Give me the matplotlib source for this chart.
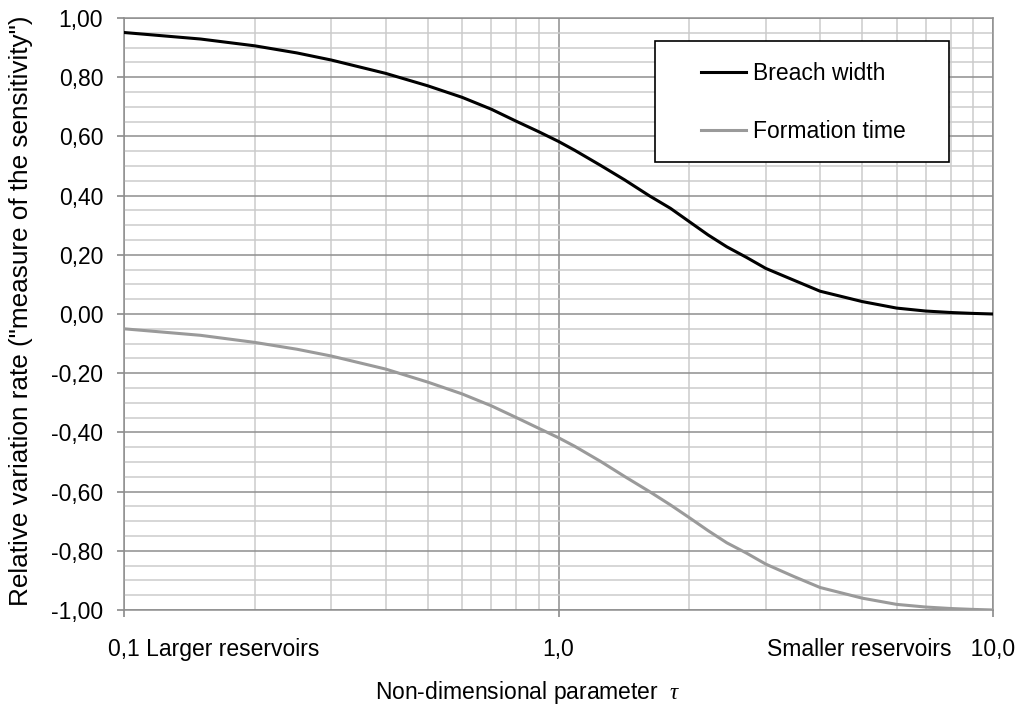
import matplotlib
matplotlib.use("Agg")
import matplotlib.pyplot as plt
import matplotlib.transforms as mtransforms
from matplotlib.patches import Rectangle
from matplotlib.ticker import FixedLocator, NullFormatter

# datos
tau = [0.1, 0.15, 0.2, 0.25, 0.3, 0.4, 0.5, 0.6, 0.7, 0.8, 0.9, 1.0, 1.09,
       1.25, 1.42, 1.62, 1.81, 2.0, 2.21, 2.44, 2.71, 3.0, 3.47, 4.0, 5.0, 6.0, 7.0, 8.0, 9.0, 10.0]
breach_width = [0.951, 0.929, 0.906, 0.882, 0.858, 0.813, 0.771, 0.732, 0.692, 0.651, 0.616, 0.583, 0.553,
                0.502, 0.453, 0.399, 0.357, 0.312, 0.267, 0.227, 0.191, 0.154, 0.115, 0.077, 0.042, 0.020,
                0.010, 0.005, 0.002, 0.0]
formation_time = [-0.050, -0.072, -0.096, -0.119, -0.142, -0.186, -0.230, -0.270, -0.310, -0.350, -0.386, -0.418,
                  -0.447, -0.498, -0.549, -0.600, -0.645, -0.688, -0.732, -0.773, -0.808, -0.845, -0.886, -0.924,
                  -0.960, -0.981, -0.990, -0.995, -0.998, -1.0]

x_ticks = [0.1, 1.0, 10.0]
x_tick_labels = ["0,1 Larger reservoirs", "1,0", "Smaller reservoirs   10,0"]
y_ticks = [-1.0, -0.8, -0.6, -0.4, -0.2, 0.0, 0.2, 0.4, 0.6, 0.8, 1.0]
y_tick_labels = ["-1,00", "-0,80", "-0,60", "-0,40", "-0,20", "0,00", "0,20", "0,40", "0,60", "0,80", "1,00"]

plt.rcParams["font.family"] = ["Liberation Sans", "DejaVu Sans"]
plt.rcParams["mathtext.fontset"] = "custom"
plt.rcParams["mathtext.rm"] = "Liberation Sans"
plt.rcParams["mathtext.it"] = "Liberation Serif:italic"

W, H = 1019, 707
fig = plt.figure(figsize=(W / 100, H / 100), dpi=100)
ax = fig.add_axes([124 / W, (H - 610) / H, (993 - 124) / W, (610 - 18) / H])

ax.set_xscale("log")
ax.set_xlim(0.1, 10)
ax.set_ylim(-1, 1)

# rejilla
minor_x = [k * 10.0 ** e for e in (-1, 0) for k in range(2, 10)]
minor_y = [i * 0.05 - 1 for i in range(41)]
ax.xaxis.set_minor_locator(FixedLocator(minor_x))
ax.xaxis.set_minor_formatter(NullFormatter())
ax.yaxis.set_minor_locator(FixedLocator(minor_y))
ax.grid(which="minor", color="#cbcbcb", linewidth=1.1, zorder=0)
ax.grid(which="major", color="#8e8e8e", linewidth=1.1, zorder=0)
ax.set_axisbelow(True)

ax.plot(tau, breach_width, color="black", linewidth=2.2, label="Breach width", zorder=3)
ax.plot(tau, formation_time, color="#9a9a9a", linewidth=2.2, label="Formation time", zorder=3)

ax.set_yticks(y_ticks)
ax.set_yticklabels(y_tick_labels)
ax.set_xticks(x_ticks)
ax.set_xticklabels(x_tick_labels)

ax.tick_params(which="minor", length=0)
ax.tick_params(axis="y", which="major", length=5, width=1.1, color="#808080", pad=10, labelsize=16.5)
ax.tick_params(axis="x", which="major", length=5, width=1.1, color="#808080", pad=15, labelsize=16.5)
for s in ax.spines.values():
    s.set_color("#8e8e8e")
    s.set_linewidth(1.1)

# alinear las etiquetas largas del eje x
labs = ax.get_xticklabels()
labs[0].set_ha("left")
labs[0].set_transform(labs[0].get_transform() + mtransforms.ScaledTranslation(-16 / 100, 0, fig.dpi_scale_trans))
labs[2].set_ha("right")
labs[2].set_transform(labs[2].get_transform() + mtransforms.ScaledTranslation(22 / 100, 0, fig.dpi_scale_trans))

fig.text(21 / W, (H - 606) / H, 'Relative variation rate ("measure of the sensitivity")',
         rotation=90, ha="center", va="bottom", fontsize=18.8)
fig.text(528 / W, (H - 692) / H, r"Non-dimensional parameter  $\tau$",
         ha="center", va="center", fontsize=16.5)

# caja de la leyenda
ax.add_patch(Rectangle((655 / W, (H - 162) / H), 294 / W, 121 / H, transform=fig.transFigure,
                       facecolor="white", edgecolor="black", linewidth=1.2, zorder=5))
ax.legend(loc="upper left", bbox_to_anchor=(690 / W, (H - 51) / H), bbox_transform=fig.transFigure,
          frameon=False, fontsize=16.5, borderpad=0, handlelength=1.95, handletextpad=0.3,
          labelspacing=1.5).set_zorder(6)

fig.savefig("out.png", dpi=100)
